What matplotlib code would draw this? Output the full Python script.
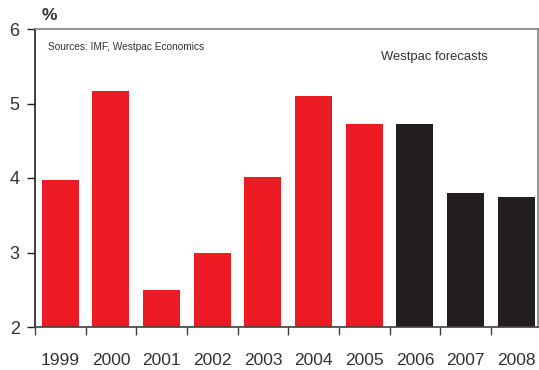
import matplotlib.pyplot as plt
from matplotlib import rcParams
import numpy as np

rcParams['font.family'] = ['Liberation Sans', 'DejaVu Sans']

years = ['1999', '2000', '2001', '2002', '2003', '2004', '2005', '2006', '2007', '2008']
growth = [3.97, 5.17, 2.50, 3.00, 4.01, 5.10, 4.72, 4.72, 3.80, 3.75]
forecast = [False, False, False, False, False, False, False, True, True, True]

COLOR_ACTUAL = '#ED1C24'
COLOR_FORECAST = '#231F20'
TEXT_COLOR = '#333333'

fig = plt.figure(figsize=(5.39, 3.70), dpi=100)
ax = fig.add_axes([35 / 539, 43 / 370, 503 / 539, 298 / 370])

x = np.arange(len(years))
colors = [COLOR_FORECAST if f else COLOR_ACTUAL for f in forecast]
ax.bar(x, [g - 2 for g in growth], bottom=2, width=0.73, color=colors, zorder=2)

ax.set_ylim(2, 6)
ax.set_xlim(-0.5, 9.43)
ax.set_yticks([2, 3, 4, 5, 6])

# ticks sit between the bars, labels under the bars
ax.set_xticks(np.arange(-0.5, 9.5, 1))
ax.set_xticklabels([])
ax.set_xticks(x, minor=True)
ax.set_xticklabels(years, minor=True)
ax.tick_params(axis='x', which='major', direction='out', length=6, width=1, color='#404040')
ax.tick_params(axis='x', which='minor', length=0, pad=19, labelsize=12.5, labelcolor=TEXT_COLOR)
ax.tick_params(axis='y', direction='out', length=6, width=1, pad=5, labelsize=13,
               labelcolor=TEXT_COLOR, color='#202020')

ax.spines['top'].set_color('#808080')
ax.spines['right'].set_color('#888888')
ax.spines['left'].set_color('#202020')
ax.spines['bottom'].set_color('#404040')
for s in ax.spines.values():
    s.set_linewidth(1.2)

fig.text(42 / 539, 1 - 15 / 370, '%', fontsize=12.5, fontweight='bold', color=TEXT_COLOR,
         va='center', ha='left')
ax.text((48 - 35) / 503, 1 - 18 / 298, 'Sources: IMF, Westpac Economics',
        transform=ax.transAxes, fontsize=7.3, color=TEXT_COLOR, va='center', ha='left')
ax.text((381 - 35) / 503, 1 - 28 / 298, 'Westpac forecasts', transform=ax.transAxes,
        fontsize=9.4, color=TEXT_COLOR, va='center', ha='left')

fig.savefig('out.png', dpi=100)
